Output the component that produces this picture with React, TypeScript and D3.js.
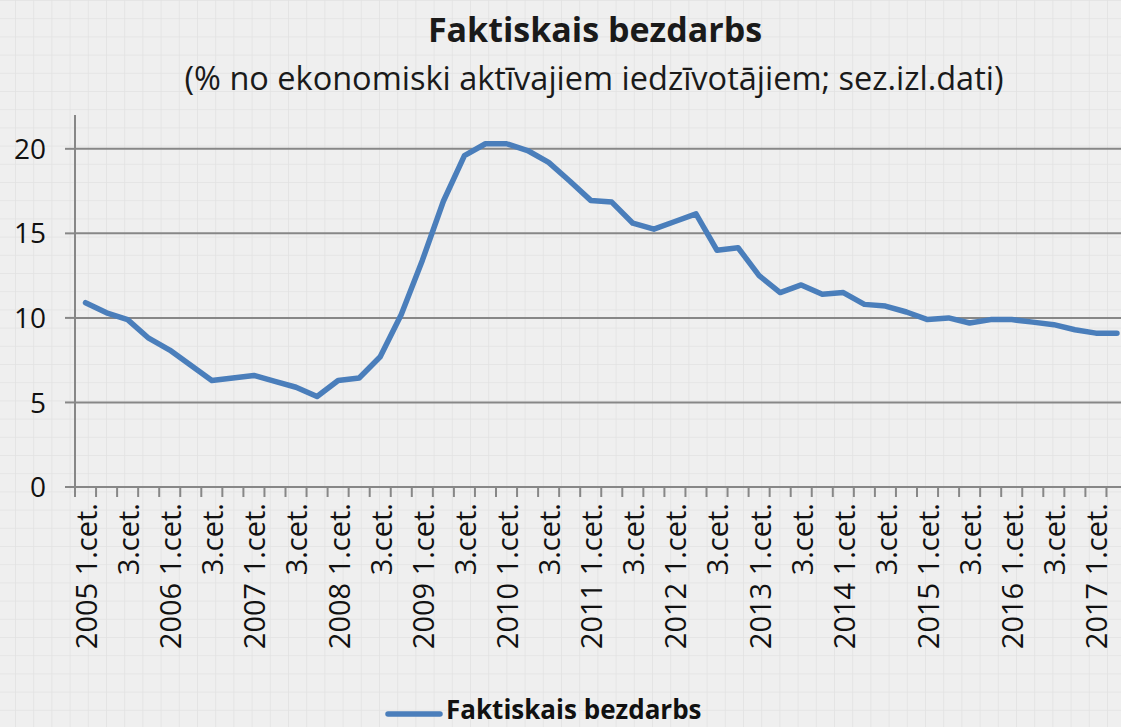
import React from "react";
import * as d3 from "d3";

const years = [2005, 2006, 2007, 2008, 2009, 2010, 2011, 2012, 2013, 2014, 2015, 2016, 2017];
const quarterNames = ["1.cet.", "2.cet.", "3.cet.", "4.cet."];
const values = [
  10.9, 10.3, 9.9, 8.8, 8.1, 7.2, 6.3, 6.45, 6.6, 6.25, 5.9, 5.35,
  6.3, 6.45, 7.7, 10.2, 13.4, 16.9, 19.6, 20.3, 20.3, 19.9, 19.2, 18.1,
  16.95, 16.85, 15.6, 15.25, 15.7, 16.15, 14.0, 14.15, 12.5, 11.5, 11.95, 11.4,
  11.5, 10.8, 10.7, 10.35, 9.9, 10.0, 9.7, 9.9, 9.9, 9.75, 9.6, 9.3, 9.1, 9.1,
];
const yTicks = [0, 5, 10, 15, 20];
const title = "Faktiskais bezdarbs";
const subtitle = "(% no ekonomiski aktīvajiem iedzīvotājiem; sez.izl.dati)";
const seriesName = "Faktiskais bezdarbs";

const categories = values.map((_, i) => ({
  year: years[Math.floor(i / 4)],
  q: i % 4,
}));

const W = 1121;
const H = 727;
const FONT = "'Open Sans', 'Noto Sans', sans-serif";

export default function App() {
  const x0 = 75;
  const step = 21.05;
  const x = d3
    .scaleBand<number>()
    .domain(categories.map((_, i) => i))
    .range([x0, x0 + step * categories.length])
    .paddingInner(0)
    .paddingOuter(0);
  const y = d3.scaleLinear().domain([0, 22]).range([487, 115]);
  const bw = x.bandwidth();
  const cx = (i: number) => (x(i) as number) + bw / 2;

  const line = d3
    .line<number>()
    .x((_, i) => cx(i))
    .y((d) => y(d));

  const tickBounds = d3.range(categories.length + 1).map((i) => x0 + i * bw);

  return (
    <svg
      width={W}
      height={H}
      style={{ position: "absolute", left: 0, top: 0, display: "block" }}
      fontFamily={FONT}
    >
      <defs>
        <pattern id="bggrid" x={15} y={0} width={18.2} height={18.2} patternUnits="userSpaceOnUse">
          <rect width={18.2} height={18.2} fill="#efefef" />
          <path d="M0 0 V18.2 M0 0 H18.2" stroke="#e2e2e2" strokeWidth={1.6} fill="none" />
        </pattern>
        <clipPath id="clipAll">
          <rect x={0} y={0} width={W} height={H} />
        </clipPath>
      </defs>
      <rect x={0} y={0} width={W} height={H} fill="url(#bggrid)" />

      <text x={595} y={42} textAnchor="middle" fontSize={34} fontWeight="bold" fill="#1a1a1a">
        {title}
      </text>
      <text x={594} y={90} textAnchor="middle" fontSize={32.5} fill="#1a1a1a">
        {subtitle}
      </text>

      <g clipPath="url(#clipAll)">
        {yTicks
          .filter((t) => t > 0)
          .map((t) => (
            <line key={"g" + t} x1={x0} x2={W + 20} y1={y(t)} y2={y(t)} stroke="#878787" strokeWidth={2} />
          ))}
        {yTicks.map((t) => (
          <g key={"yt" + t}>
            <line x1={65} x2={x0} y1={y(t)} y2={y(t)} stroke="#878787" strokeWidth={2} />
            <text x={46} y={y(t)} dy="0.36em" textAnchor="end" fontSize={28} fill="#111">
              {t}
            </text>
          </g>
        ))}
        <line x1={x0} x2={x0} y1={y(22)} y2={y(0)} stroke="#878787" strokeWidth={2} />
        <line x1={65} x2={W + 20} y1={y(0)} y2={y(0)} stroke="#878787" strokeWidth={2} />
        {tickBounds.map((tx, i) => (
          <line key={"xt" + i} x1={tx} x2={tx} y1={y(0)} y2={y(0) + 10} stroke="#878787" strokeWidth={2} />
        ))}
        {categories.map((c, i) =>
          c.q % 2 === 0 ? (
            <text
              key={"xl" + i}
              transform={`translate(${cx(i) + 1},${503}) rotate(-90)`}
              textAnchor="end"
              dy="0.36em"
              fontSize={29}
              fill="#111"
            >
              {c.q === 0 ? `${c.year} ${quarterNames[c.q]}` : quarterNames[c.q]}
            </text>
          ) : null
        )}
        <path
          d={line(values) || ""}
          fill="none"
          stroke="#4a7ebb"
          strokeWidth={5.5}
          strokeLinejoin="round"
          strokeLinecap="round"
        />
      </g>

      <line x1={388} x2={440} y1={714} y2={714} stroke="#4a7ebb" strokeWidth={5.5} strokeLinecap="round" />
      <text x={446} y={719} fontSize={26} fontWeight="bold" fill="#111">
        {seriesName}
      </text>
    </svg>
  );
}
